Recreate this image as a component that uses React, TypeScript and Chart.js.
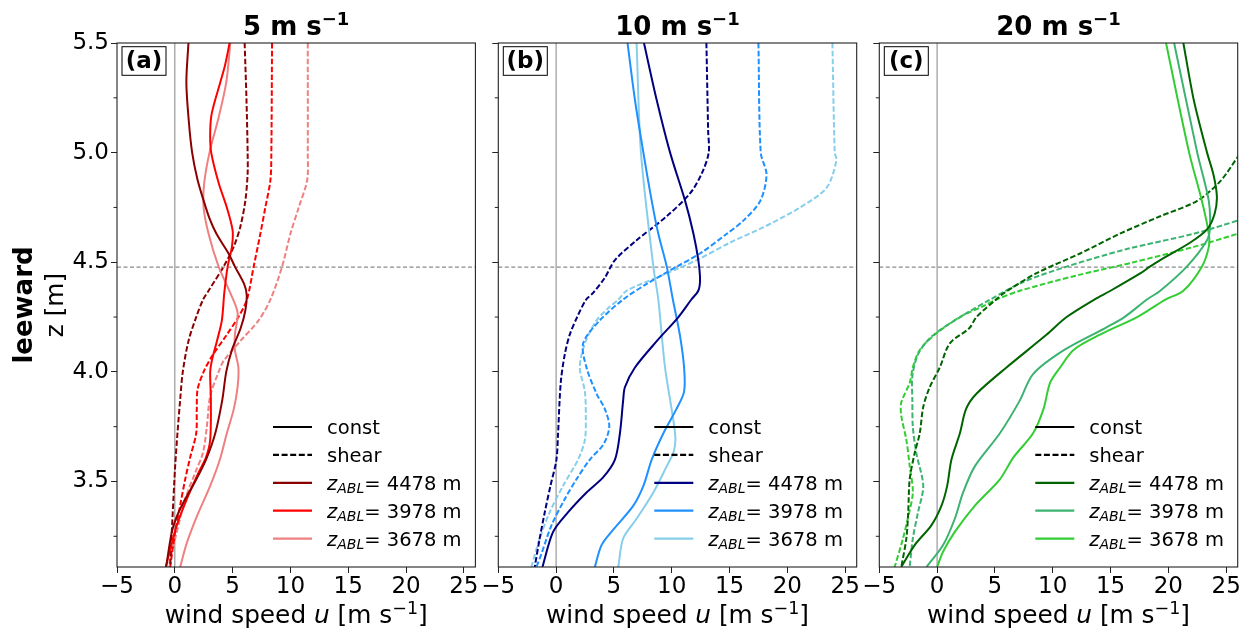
import React, { useEffect, useRef } from 'react';
import { Chart, registerables } from 'chart.js';

Chart.register(...registerables);

// ---------- axes / labels ----------
const X_MIN = -5;
const X_MAX = 26;
const Y_MIN = 3.11;
const Y_MAX = 5.5;
const X_TICKS = [-5, 0, 5, 10, 15, 20, 25];
const Y_MAJOR_TICKS = [3.5, 4.0, 4.5, 5.0, 5.5];
const Y_MINOR_TICKS = [3.25, 3.75, 4.25, 4.75, 5.25];
const Z_ABL_KM = 4.478;
const PANEL_TAGS = ['(a)', '(b)', '(c)'];
const PANEL_SPEEDS = ['5', '10', '20'];
const ABL_HEIGHTS = ['4478', '3978', '3678'];
const STYLE_LABELS = ['const', 'shear'];
const COLORS_A = ['#8B0000', '#FF0000', '#F08080'];
const COLORS_B = ['#000080', '#1E90FF', '#87CEEB'];
const COLORS_C = ['#006400', '#3CB371', '#32CD32'];

// ---------- panel (a): 5 m/s ----------
const aConst4478Z = [5.5, 5.32, 5.15, 5.0, 4.88, 4.78, 4.7, 4.63, 4.54, 4.48, 4.4, 4.35, 4.28, 4.2, 4.1, 4.0, 3.87, 3.72, 3.6, 3.5, 3.42, 3.34, 3.27, 3.11];
const aConst4478U = [1.18, 1.0, 1.2, 1.5, 1.95, 2.5, 3.0, 3.6, 4.65, 5.2, 6.0, 6.22, 6.1, 5.7, 4.94, 4.45, 4.1, 3.5, 2.7, 1.76, 0.9, 0.17, -0.26, -0.75];
const aConst3978Z = [5.5, 5.4, 5.32, 5.18, 5.09, 5.0, 4.86, 4.75, 4.645, 4.57, 4.48, 4.36, 4.235, 4.14, 4.05, 4.0, 3.87, 3.69, 3.61, 3.54, 3.42, 3.3, 3.19, 3.11];
const aConst3978U = [4.74, 4.35, 3.93, 3.2, 3.06, 3.15, 3.8, 4.5, 5.0, 4.94, 4.57, 4.28, 4.07, 3.64, 3.2, 3.06, 3.12, 3.06, 2.7, 2.05, 1.04, 0.17, -0.4, -0.78];
const aConst3678Z = [5.5, 5.32, 5.16, 5.0, 4.86, 4.75, 4.63, 4.48, 4.36, 4.27, 4.17, 4.1, 4.02, 3.93, 3.83, 3.72, 3.6, 3.48, 3.34, 3.22, 3.11];
const aConst3678U = [4.8, 4.45, 3.79, 3.0, 2.54, 2.49, 2.92, 3.79, 4.8, 5.43, 5.2, 5.2, 5.5, 5.43, 5.1, 4.5, 3.9, 3.06, 1.9, 1.04, 0.46];
const aShear4478Z = [5.5, 5.24, 5.0, 4.905, 4.78, 4.66, 4.57, 4.48, 4.37, 4.33, 4.25, 4.14, 4.0, 3.87, 3.72, 3.57, 3.42, 3.27, 3.11];
const aShear4478U = [6.04, 6.2, 6.3, 6.3, 6.1, 5.66, 5.09, 4.22, 2.92, 2.45, 1.85, 1.18, 0.69, 0.46, 0.23, 0.03, -0.12, -0.26, -0.4];
const aShear3978Z = [5.5, 5.0, 4.875, 4.75, 4.63, 4.48, 4.33, 4.25, 4.17, 4.07, 4.0, 3.92, 3.83, 3.72, 3.61, 3.51, 3.39, 3.27, 3.11];
const aShear3978U = [8.41, 8.35, 8.27, 7.83, 7.4, 6.82, 6.24, 5.5, 4.5, 3.2, 2.49, 1.97, 1.9, 1.85, 1.33, 0.9, 0.46, 0.03, -0.4];
const aShear3678Z = [5.5, 5.0, 4.875, 4.75, 4.63, 4.48, 4.33, 4.235, 4.14, 4.05, 4.0, 3.89, 3.75, 3.63, 3.54, 3.42, 3.27, 3.11];
const aShear3678U = [11.5, 11.5, 11.45, 10.72, 10.0, 9.28, 8.27, 7.25, 5.66, 4.22, 3.79, 3.06, 2.77, 2.43, 1.76, 0.9, 0.17, -0.55];

// ---------- panel (b): 10 m/s ----------
const bConst4478Z = [5.5, 5.24, 5.0, 4.78, 4.63, 4.51, 4.42, 4.37, 4.33, 4.25, 4.14, 4.02, 3.93, 3.87, 3.72, 3.6, 3.52, 3.45, 3.36, 3.27, 3.11];
const bConst4478U = [7.6, 8.7, 9.86, 11.16, 11.88, 12.3, 12.45, 12.3, 11.7, 10.58, 8.7, 6.82, 5.95, 5.8, 5.52, 5.09, 4.08, 2.63, 1.04, -0.26, -1.18];
const bConst3978Z = [5.5, 5.24, 5.0, 4.78, 4.63, 4.48, 4.33, 4.17, 4.02, 3.91, 3.83, 3.72, 3.6, 3.48, 3.39, 3.28, 3.21, 3.11];
const bConst3978U = [6.18, 6.82, 7.55, 8.27, 8.84, 9.57, 10.1, 10.7, 11.07, 11.07, 10.4, 9.28, 8.27, 7.55, 6.68, 4.94, 3.93, 3.35];
const bConst3678Z = [5.5, 5.0, 4.48, 4.33, 4.02, 3.72, 3.64, 3.57, 3.45, 3.33, 3.24, 3.11];
const bConst3678U = [6.96, 7.34, 8.41, 8.84, 9.42, 10.29, 10.2, 9.57, 8.41, 6.96, 5.8, 5.38];
const bShear4478Z = [5.5, 5.1, 5.0, 4.905, 4.815, 4.71, 4.6, 4.51, 4.43, 4.36, 4.33, 4.25, 4.17, 4.08, 3.95, 3.72, 3.6, 3.48, 3.36, 3.24, 3.11];
const bShear4478U = [13.0, 13.15, 13.2, 12.6, 11.6, 9.57, 6.96, 5.09, 4.22, 3.2, 2.6, 1.82, 1.18, 0.75, 0.4, 0.17, 0.03, -0.49, -0.98, -1.42, -1.85];
const bShear3978Z = [5.5, 5.0, 4.9, 4.78, 4.69, 4.63, 4.54, 4.48, 4.4, 4.33, 4.235, 4.13, 4.02, 3.9, 3.83, 3.75, 3.67, 3.6, 3.51, 3.42, 3.3, 3.17, 3.11];
const bShear3978U = [17.5, 17.7, 18.2, 17.66, 16.2, 14.77, 12.45, 10.43, 7.8, 5.8, 3.78, 2.34, 2.63, 3.5, 4.22, 4.6, 4.1, 2.92, 1.76, 0.75, -0.4, -1.27, -1.7];
const bShear3678Z = [5.5, 5.0, 4.965, 4.84, 4.75, 4.66, 4.59, 4.51, 4.43, 4.37, 4.33, 4.29, 4.235, 4.13, 4.02, 3.91, 3.79, 3.69, 3.6, 3.48, 3.36, 3.24, 3.11];
const bShear3678U = [23.9, 24.1, 24.25, 23.4, 21.1, 17.95, 15.06, 12.17, 8.7, 6.1, 5.4, 4.5, 3.5, 2.49, 2.05, 2.49, 2.57, 2.49, 1.9, 0.6, -0.55, -1.42, -2.14];

// ---------- panel (c): 20 m/s ----------
const cConst4478Z = [5.5, 5.24, 5.0, 4.9, 4.8, 4.72, 4.65, 4.59, 4.51, 4.48, 4.45, 4.37, 4.33, 4.25, 4.17, 4.02, 3.9, 3.83, 3.72, 3.6, 3.48, 3.39, 3.3, 3.21, 3.11];
const cConst4478U = [21.3, 22.2, 23.35, 23.9, 24.2, 24.0, 23.35, 21.9, 19.3, 18.4, 17.6, 15.0, 13.6, 11.2, 9.48, 6.0, 3.4, 2.5, 1.97, 1.24, 0.87, 0.38, -0.5, -1.94, -3.1];
const cConst3978Z = [5.5, 5.0, 4.78, 4.66, 4.6, 4.48, 4.37, 4.33, 4.25, 4.2, 4.1, 3.99, 3.87, 3.72, 3.57, 3.45, 3.33, 3.21, 3.11];
const cConst3978U = [20.5, 22.5, 23.5, 23.6, 23.35, 21.6, 19.3, 18.15, 16.2, 14.54, 11.0, 8.3, 7.16, 5.43, 3.27, 2.25, 1.53, 0.52, -0.92];
const cConst3678Z = [5.5, 5.0, 4.78, 4.63, 4.57, 4.48, 4.37, 4.33, 4.25, 4.17, 4.1, 4.02, 3.95, 3.83, 3.72, 3.61, 3.51, 3.39, 3.27, 3.18, 3.11];
const cConst3678U = [19.8, 21.8, 22.9, 23.5, 23.5, 22.9, 21.3, 19.75, 17.3, 14.1, 11.8, 10.64, 9.77, 9.2, 8.3, 6.6, 5.43, 3.27, 1.53, 0.52, 0];
const cShear4478Z = [5.05, 4.98, 4.87, 4.78, 4.71, 4.63, 4.54, 4.45, 4.36, 4.33, 4.25, 4.2, 4.13, 4.02, 3.93, 3.84, 3.72, 3.63, 3.51, 3.36, 3.24, 3.11];
const cShear4478U = [27.0, 26.0, 24.5, 22.5, 19.3, 15.8, 12.37, 8.6, 5.8, 5.1, 3.4, 2.8, 1.1, 0.23, -0.64, -1.2, -1.5, -1.94, -2.37, -2.5, -2.66, -3.1];
const cShear3978Z = [4.72, 4.69, 4.63, 4.56, 4.48, 4.41, 4.33, 4.25, 4.16, 4.08, 3.98, 3.87, 3.75, 3.63, 3.48, 3.36, 3.24, 3.11];
const cShear3978U = [27.9, 26.0, 22.2, 16.4, 11.2, 7.45, 4.6, 2.0, -0.5, -1.65, -2.14, -2.14, -2.1, -1.8, -1.2, -1.65, -2.1, -2.37];
const cShear3678Z = [4.67, 4.63, 4.57, 4.5, 4.44, 4.37, 4.33, 4.3, 4.25, 4.17, 4.1, 4.02, 3.95, 3.86, 3.8, 3.69, 3.57, 3.45, 3.34, 3.24, 3.11];
const cShear3678U = [28.5, 26.0, 22.2, 17.0, 12.1, 7.16, 5.14, 4.0, 1.97, -0.2, -1.5, -2.1, -2.37, -3.1, -3.1, -2.66, -2.37, -2.1, -2.5, -2.95, -3.67];

// ---------- geometry (layout only) ----------
const W = 1247;
const H = 630;
const PANEL_LEFT = [117, 498.3, 879.3];
const PANEL_WIDTH = 358.4;
const PLOT_TOP = 43;
const PLOT_BOTTOM = 567;
const X_AXIS_H = 40;
const FONT = 'DejaVu Sans';
const TICK_FONT_SIZE = 23;
const LABEL_FONT_SIZE = 24.8;

type Curve = { z: number[]; u: number[] };
const PANEL_CURVES: { consts: Curve[]; shears: Curve[]; colors: string[] }[] = [
  {
    consts: [{ z: aConst4478Z, u: aConst4478U }, { z: aConst3978Z, u: aConst3978U }, { z: aConst3678Z, u: aConst3678U }],
    shears: [{ z: aShear4478Z, u: aShear4478U }, { z: aShear3978Z, u: aShear3978U }, { z: aShear3678Z, u: aShear3678U }],
    colors: COLORS_A,
  },
  {
    consts: [{ z: bConst4478Z, u: bConst4478U }, { z: bConst3978Z, u: bConst3978U }, { z: bConst3678Z, u: bConst3678U }],
    shears: [{ z: bShear4478Z, u: bShear4478U }, { z: bShear3978Z, u: bShear3978U }, { z: bShear3678Z, u: bShear3678U }],
    colors: COLORS_B,
  },
  {
    consts: [{ z: cConst4478Z, u: cConst4478U }, { z: cConst3978Z, u: cConst3978U }, { z: cConst3678Z, u: cConst3678U }],
    shears: [{ z: cShear4478Z, u: cShear4478U }, { z: cShear3978Z, u: cShear3978U }, { z: cShear3678Z, u: cShear3678U }],
    colors: COLORS_C,
  },
];

type Run = { text: string; font: string; dy?: number };

function drawRuns(ctx: CanvasRenderingContext2D, runs: Run[], x: number, y: number, align: 'left' | 'center') {
  ctx.textAlign = 'left';
  ctx.textBaseline = 'alphabetic';
  const widths = runs.map((r) => {
    ctx.font = r.font;
    return ctx.measureText(r.text).width;
  });
  const total = widths.reduce((a, b) => a + b, 0);
  let cx = align === 'center' ? x - total / 2 : x;
  runs.forEach((r, i) => {
    ctx.font = r.font;
    ctx.fillText(r.text, cx, y + (r.dy || 0));
    cx += widths[i];
  });
}

function makePlugin(idx: number, colors: string[]) {
  return {
    id: 'decor' + idx,
    beforeDatasetsDraw(chart: any) {
      const { ctx, chartArea: ca, scales } = chart;
      ctx.save();
      ctx.beginPath();
      ctx.rect(ca.left, ca.top, ca.right - ca.left, ca.bottom - ca.top);
      ctx.clip();
      const x0 = scales.x.getPixelForValue(0);
      ctx.strokeStyle = '#999999';
      ctx.lineWidth = 1.2;
      ctx.beginPath();
      ctx.moveTo(x0, ca.top);
      ctx.lineTo(x0, ca.bottom);
      ctx.stroke();
      const yz = scales.y.getPixelForValue(Z_ABL_KM);
      ctx.setLineDash([4, 2.5]);
      ctx.strokeStyle = '#8a8a8a';
      ctx.beginPath();
      ctx.moveTo(ca.left, yz);
      ctx.lineTo(ca.right, yz);
      ctx.stroke();
      ctx.restore();
    },
    afterDraw(chart: any) {
      const { ctx, chartArea: ca, scales } = chart;
      ctx.save();
      // spines
      ctx.strokeStyle = '#222';
      ctx.lineWidth = 1.1;
      ctx.strokeRect(ca.left, ca.top, ca.right - ca.left, ca.bottom - ca.top);
      // minor y ticks
      ctx.lineWidth = 1;
      Y_MINOR_TICKS.forEach((v) => {
        const py = scales.y.getPixelForValue(v);
        ctx.beginPath();
        ctx.moveTo(ca.left - 3.5, py);
        ctx.lineTo(ca.left, py);
        ctx.stroke();
      });
      // panel tag box
      const bx = ca.left + 5;
      const by = ca.top + 3.7;
      ctx.fillStyle = '#fff';
      ctx.fillRect(bx, by, 44, 28.6);
      ctx.strokeStyle = '#000';
      ctx.lineWidth = 1;
      ctx.strokeRect(bx, by, 44, 28.6);
      ctx.fillStyle = '#000';
      ctx.font = `bold 23px "${FONT}"`;
      ctx.textAlign = 'center';
      ctx.textBaseline = 'alphabetic';
      ctx.fillText(PANEL_TAGS[idx], bx + 22, by + 21.6);
      // title
      const cx = (ca.left + ca.right) / 2;
      drawRuns(
        ctx,
        [
          { text: PANEL_SPEEDS[idx] + ' m s', font: `bold 26px "${FONT}"` },
          { text: '\u22121', font: `bold 18px "${FONT}"`, dy: -10 },
        ],
        cx,
        35,
        'center'
      );
      // x label
      drawRuns(
        ctx,
        [
          { text: 'wind speed ', font: `${LABEL_FONT_SIZE}px "${FONT}"` },
          { text: 'u', font: `italic ${LABEL_FONT_SIZE}px "${FONT}"` },
          { text: ' [m s', font: `${LABEL_FONT_SIZE}px "${FONT}"` },
          { text: '\u22121', font: `17.5px "${FONT}"`, dy: -9.5 },
          { text: ']', font: `${LABEL_FONT_SIZE}px "${FONT}"` },
        ],
        cx,
        623,
        'center'
      );
      // y labels (panel a only)
      if (idx === 0) {
        const cy = (ca.top + ca.bottom) / 2;
        ctx.save();
        ctx.translate(32, cy);
        ctx.rotate(-Math.PI / 2);
        drawRuns(ctx, [{ text: 'leeward', font: `bold 26px "${FONT}"` }], 0, 0, 'center');
        ctx.restore();
        ctx.save();
        ctx.translate(63, cy);
        ctx.rotate(-Math.PI / 2);
        drawRuns(ctx, [{ text: 'z [m]', font: `${LABEL_FONT_SIZE}px "${FONT}"` }], 0, 0, 'center');
        ctx.restore();
      }
      // legend
      const lx0 = ca.left + 156;
      const lx1 = ca.left + 195;
      const tx = ca.left + 210;
      const rowY = (k: number) => ca.top + 384 + 27.9 * k;
      const entries = [
        { color: '#000', dash: [] as number[], runs: [{ text: STYLE_LABELS[0], font: `19.5px "${FONT}"` }] },
        { color: '#000', dash: [6, 2.6], runs: [{ text: STYLE_LABELS[1], font: `19.5px "${FONT}"` }] },
        ...ABL_HEIGHTS.map((h, k) => ({
          color: colors[k],
          dash: [] as number[],
          runs: [
            { text: 'z', font: `italic 19.5px "${FONT}"` },
            { text: 'ABL', font: `italic 14px "${FONT}"`, dy: 3.5 },
            { text: '= ' + h + ' m', font: `19.5px "${FONT}"` },
          ],
        })),
      ];
      entries.forEach((e, k) => {
        const y = rowY(k);
        ctx.strokeStyle = e.color;
        ctx.lineWidth = 2.2;
        ctx.setLineDash(e.dash);
        ctx.beginPath();
        ctx.moveTo(lx0, y);
        ctx.lineTo(lx1, y);
        ctx.stroke();
        ctx.setLineDash([]);
        ctx.fillStyle = '#000';
        drawRuns(ctx, e.runs, tx, y + 7, 'left');
      });
      ctx.restore();
    },
  };
}

function buildConfig(idx: number): any {
  const p = PANEL_CURVES[idx];
  const datasets: any[] = [];
  p.consts.forEach((c, k) => {
    datasets.push({
      data: c.z.map((z, i) => ({ x: c.u[i], y: z })),
      borderColor: p.colors[k],
      borderWidth: 2,
      pointRadius: 0,
      fill: false,
      tension: 0.3,
    });
  });
  p.shears.forEach((c, k) => {
    datasets.push({
      data: c.z.map((z, i) => ({ x: c.u[i], y: z })),
      borderColor: p.colors[k],
      borderWidth: 2,
      borderDash: [5.5, 2.4],
      pointRadius: 0,
      fill: false,
      tension: 0.3,
    });
  });
  const yAxisW = idx === 0 ? 100 : 10;
  const left = PANEL_LEFT[idx];
  const right = left + PANEL_WIDTH;
  return {
    type: 'line',
    data: { datasets },
    options: {
      responsive: false,
      animation: false,
      events: [],
      layout: {
        padding: {
          left: left - yAxisW,
          right: W - right,
          top: PLOT_TOP,
          bottom: H - PLOT_BOTTOM - X_AXIS_H,
        },
      },
      plugins: { legend: { display: false }, tooltip: { enabled: false }, title: { display: false } },
      scales: {
        x: {
          type: 'linear',
          position: 'bottom',
          min: X_MIN,
          max: X_MAX,
          afterBuildTicks: (s: any) => {
            s.ticks = X_TICKS.map((v) => ({ value: v }));
          },
          afterFit: (s: any) => {
            s.height = X_AXIS_H;
          },
          ticks: {
            autoSkip: false,
            maxRotation: 0,
            padding: 0,
            color: '#000',
            font: { family: FONT, size: TICK_FONT_SIZE },
            callback: (v: number) => (v < 0 ? '\u2212' + Math.abs(v) : String(v)),
          },
          grid: { drawOnChartArea: false, drawTicks: true, tickLength: 6, tickColor: '#222', lineWidth: 1 },
          border: { display: false },
        },
        y: {
          type: 'linear',
          position: 'left',
          min: Y_MIN,
          max: Y_MAX,
          afterBuildTicks: (s: any) => {
            s.ticks = [...Y_MINOR_TICKS, ...Y_MAJOR_TICKS].sort((a, b) => a - b).map((v) => ({ value: v }));
          },
          afterFit: (s: any) => {
            s.width = yAxisW;
          },
          ticks: {
            autoSkip: false,
            padding: 2,
            color: '#000',
            font: { family: FONT, size: TICK_FONT_SIZE },
            callback: (v: number) => (idx === 0 && Y_MAJOR_TICKS.includes(v) ? v.toFixed(1) : ''),
          },
          grid: {
            drawOnChartArea: false,
            drawTicks: true,
            tickLength: 6,
            lineWidth: 1,
            tickColor: (c: any) => (c.tick && Y_MINOR_TICKS.includes(c.tick.value) ? 'rgba(0,0,0,0)' : '#222'),
          },
          border: { display: false },
        },
      },
    },
    plugins: [makePlugin(idx, p.colors)],
  };
}

export default function App() {
  const refs = useRef<(HTMLCanvasElement | null)[]>([]);
  useEffect(() => {
    const charts = [0, 1, 2].map((i) => new Chart(refs.current[i] as HTMLCanvasElement, buildConfig(i)));
    return () => charts.forEach((c) => c.destroy());
  }, []);
  return (
    <div style={{ position: 'absolute', left: 0, top: 0, width: W, height: H, background: '#fff', overflow: 'hidden' }}>
      {[0, 1, 2].map((i) => (
        <canvas
          key={i}
          ref={(el) => {
            refs.current[i] = el;
          }}
          width={W}
          height={H}
          style={{ position: 'absolute', left: 0, top: 0, width: W, height: H }}
        />
      ))}
    </div>
  );
}
